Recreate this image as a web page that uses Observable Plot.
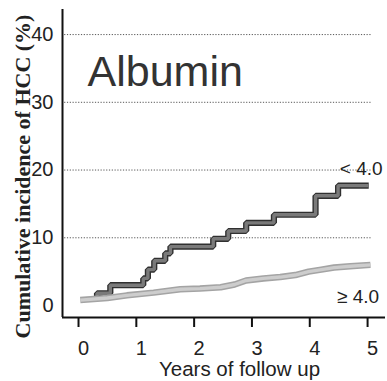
<!DOCTYPE html>
<html>
<head>
<meta charset="utf-8">
<script src="https://cdn.jsdelivr.net/npm/d3@7"></script>
<script src="https://cdn.jsdelivr.net/npm/@observablehq/plot@0.6"></script>
<style>
  html, body { margin: 0; padding: 0; background: #fff; }
  svg { display: block; }
</style>
</head>
<body>
<div id="chart"></div>
<script>
// Series: albumin < 4.0 (Kaplan-Meier style step curve)
const lowTime = [0.32, 0.32, 0.55, 1.12, 1.20, 1.31, 1.50, 1.59, 2.33, 2.59, 2.90, 3.38, 4.10, 4.49, 5.02];
const lowVal  = [1.0, 1.8, 3.0, 4.0, 5.3, 6.6, 7.7, 8.7, 9.85, 11.0, 12.2, 13.4, 16.2, 17.7, 17.7];
// Series: albumin >= 4.0
const highTime = [0.03, 0.5, 0.84, 1.3, 1.76, 2.1, 2.46, 2.7, 2.9, 3.2, 3.49, 3.75, 3.98, 4.2, 4.42, 4.7, 5.05];
const highVal  = [0.8, 1.1, 1.5, 1.9, 2.4, 2.5, 2.7, 3.1, 3.7, 4.0, 4.2, 4.5, 5.0, 5.3, 5.6, 5.8, 6.0];

const xTicks = [0, 1, 2, 3, 4, 5];
const yTicks = [0, 10, 20, 30, 40];
const gridValues = [10, 20, 30, 40];

const title = "Albumin";
const xLabel = "Years of follow up";
const yLabel = "Cumulative incidence of HCC (%)";
const seriesLabels = ["< 4.0", "\u2265 4.0"];
const seriesLabelX = [5.26, 5.20];
const seriesLabelY = [19.2, 0.3];

const xDomain = [-0.277, 5.31];
const yDomain = [-1.77, 43.7];

const low = lowTime.map((t, i) => ({t, v: lowVal[i]}));
const high = highTime.map((t, i) => ({t, v: highVal[i]}));
const labels = seriesLabels.map((s, i) => ({s, x: seriesLabelX[i], y: seriesLabelY[i]}));

const sans = "'Liberation Sans', Arial, Helvetica, sans-serif";
const serif = "'Liberation Serif', 'Times New Roman', Times, serif";

const chart = Plot.plot({
  width: 387,
  height: 381,
  marginLeft: 62,
  marginRight: 2,
  marginTop: 9,
  marginBottom: 64,
  style: {fontFamily: sans, background: "#fff", color: "#222"},
  x: {domain: xDomain},
  y: {domain: yDomain},
  marks: [
    Plot.ruleY(gridValues, {x1: -0.24, x2: 5.06, stroke: "#444", strokeWidth: 0.9, strokeDasharray: "1.2,1.6"}),
    // axes lines
    Plot.ruleY([yDomain[0]], {x1: xDomain[0], x2: xDomain[1], stroke: "#111", strokeWidth: 2}),
    Plot.ruleX([xDomain[0]], {y1: yDomain[0], y2: yDomain[1], stroke: "#111", strokeWidth: 2}),
    Plot.axisY({ticks: yTicks, tickSize: 0, tickPadding: 9, tickFormat: d => String(d), fontSize: 20, label: null, fill: "#222"}),
    Plot.axisX({ticks: xTicks, tickSize: 10, tickFormat: () => "", label: null, strokeWidth: 2, stroke: "#111"}),
    Plot.axisX({ticks: xTicks, tickSize: 0, tickPadding: 23, dx: 5, tickFormat: d => String(d), fontSize: 20, label: null, fill: "#222"}),
    // curves
    Plot.line(low, {x: "t", y: "v", curve: "step-after", stroke: "#303030", strokeWidth: 6.2, strokeLinejoin: "miter", strokeLinecap: "butt"}),
    Plot.line(low, {x: "t", y: "v", curve: "step-after", stroke: "#7a7a7a", strokeWidth: 3.4, strokeLinejoin: "miter", strokeLinecap: "butt"}),
    Plot.line(high, {x: "t", y: "v", stroke: "#a4a4a4", strokeWidth: 6.5, strokeLinecap: "butt"}),
    Plot.line(high, {x: "t", y: "v", stroke: "#cdcdcd", strokeWidth: 3.4, strokeLinecap: "butt"}),
    // texts
    Plot.text(labels, {x: "x", y: "y", text: "s", textAnchor: "end", lineAnchor: "bottom", fontSize: 19, fill: "#222"}),
    Plot.text([title], {frameAnchor: "top-left", dx: 25, dy: 76, textAnchor: "start", lineAnchor: "bottom", fontSize: 43, fill: "#333"}),
    Plot.text([xLabel], {frameAnchor: "bottom", dx: 15.5, dy: 58, textAnchor: "middle", lineAnchor: "bottom", fontSize: 20.5, fill: "#222"}),
    Plot.text([yLabel], {frameAnchor: "left", dx: -33, dy: 13, rotate: -90, textAnchor: "middle", lineAnchor: "bottom", fontSize: 22, fontFamily: serif, fontWeight: "bold", fill: "#222"})
  ]
});
document.getElementById("chart").appendChild(chart);
</script>
</body>
</html>
